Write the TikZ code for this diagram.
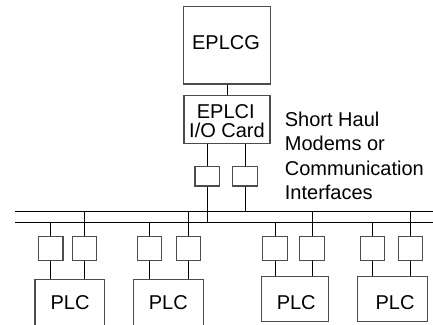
\documentclass[tikz,border=0pt]{standalone}
\usepackage{fontspec}
\setmainfont{Liberation Sans}
\begin{document}
\begin{tikzpicture}[x=1pt,y=-1pt,
  box/.style={draw=black!70, line width=1.1pt, rectangle, inner sep=0pt},
  modem/.style={box, minimum width=24.5pt, minimum height=24pt},
  topmodem/.style={box, minimum width=24.6pt, minimum height=19.3pt},
  wire/.style={draw=black, line width=0.9pt},
  txt/.style={font=\fontsize{20}{24}\selectfont, inner sep=0pt, anchor=base}]
\useasboundingbox (0,0) rectangle (433,324);
% main boxes
\node[box, minimum width=86.5pt, minimum height=77.3pt] (G) at (227,45.3) {};
\node[txt] (Gt) at (226,49.3) {EPLCG};
\node[box, minimum width=86pt, minimum height=47.5pt] (I) at (227,119.3) {};
\node[txt] (It1) at (225.8,118.3) {EPLCI};
\node[txt] (It2) at (227,137.3) {I/O Card};
\draw[wire] (G.south) -- (I.north);
% side label
\node[txt, anchor=base west] (l1) at (284.7,126) {Short Haul};
\node[txt, anchor=base west] (l2) at (284.7,150.5) {Modems or};
\node[txt, anchor=base west] (l3) at (284.7,175) {Communication};
\node[txt, anchor=base west] (l4) at (284.7,199.5) {Interfaces};
% bus
\coordinate (bu0) at (15,211.3); \coordinate (bu1) at (434,211.3);
\coordinate (bl0) at (15,222); \coordinate (bl1) at (434,222);
\draw[wire] (bu0) -- (bu1);
\draw[wire] (bl0) -- (bl1);
% top modems
\node[topmodem] (m1) at (207.3,176.3) {};
\node[topmodem] (m2) at (245,176.3) {};
\draw[wire] (m1.north |- I.south) -- (m1.north);
\draw[wire] (m1.south) -- (m1.south |- bl0);
\draw[wire] (m2.north |- I.south) -- (m2.north);
\draw[wire] (m2.south) -- (m2.south |- bu0);
% PLC boxes
\node[box, minimum width=69.3pt, minimum height=52.7pt] (P1) at (69.65,305.65) {};
\node[box, minimum width=70pt, minimum height=52.7pt] (P2) at (168.3,305.65) {};
\node[box, minimum width=66.6pt, minimum height=45pt] (P3) at (295,299.2) {};
\node[box, minimum width=69.6pt, minimum height=45pt] (P4) at (392.5,299.2) {};
\node[txt] (Pt1) at (70,309.3) {PLC};
\node[txt] (Pt2) at (168.3,309.3) {PLC};
\node[txt] (Pt3) at (296.2,309.3) {PLC};
\node[txt] (Pt4) at (395,309.3) {PLC};
% PLC modems
\foreach \k/\xa/\xb in {1/50.7/84.3, 2/149.5/188.5, 3/275/312, 4/372.3/410.5}{
  \node[modem] (a\k) at (\xa,248.7) {};
  \node[modem] (b\k) at (\xb,248.7) {};
  \draw[wire] (a\k.north |- bl0) -- (a\k.north);
  \draw[wire] (b\k.north |- bu0) -- (b\k.north);
  \draw[wire] (a\k.south) -- (a\k.south |- P\k.north);
  \draw[wire] (b\k.south) -- (b\k.south |- P\k.north);
}
\end{tikzpicture}
\end{document}
